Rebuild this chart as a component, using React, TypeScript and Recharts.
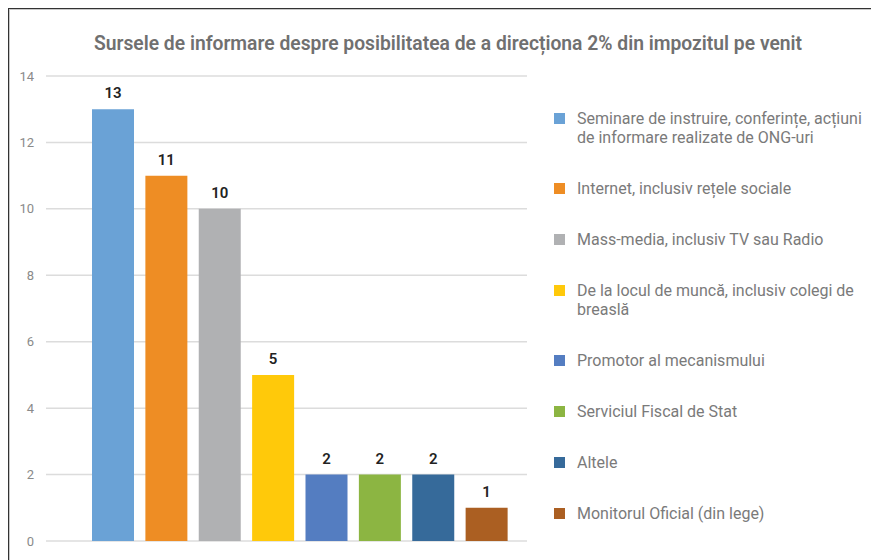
import { BarChart, Bar, XAxis, YAxis, CartesianGrid, Legend, LabelList, Cell } from "recharts";

const categories = [
  "Seminare de instruire, conferințe, acțiuni de informare realizate de ONG-uri",
  "Internet, inclusiv rețele sociale",
  "Mass-media, inclusiv TV sau Radio",
  "De la locul de muncă, inclusiv colegi de breaslă",
  "Promotor al mecanismului",
  "Serviciul Fiscal de Stat",
  "Altele",
  "Monitorul Oficial (din lege)",
];
const counts = [13, 11, 10, 5, 2, 2, 2, 1];
const colors = ["#6aa2d6", "#ee8d24", "#b0b1b3", "#ffc90a", "#547dc1", "#8cb542", "#366a9a", "#ab5f22"];
const yTicks = [0, 2, 4, 6, 8, 10, 12, 14];

const data = categories.map((name, i) => ({ name, value: counts[i] }));

const font = "Roboto, 'Noto Sans', sans-serif";

function LegendList() {
  return (
    <div style={{ fontFamily: font }}>
      {categories.map((c, i) => (
        <div key={c} style={{ display: "flex", alignItems: "flex-start", marginBottom: 32 }}>
          <span
            style={{
              width: 11,
              height: 11,
              background: colors[i],
              marginTop: 4,
              marginRight: 12,
              flex: "none",
            }}
          />
          <span style={{ fontSize: 16, lineHeight: "19px", color: "#7a7a7a", width: 296 }}>{c}</span>
        </div>
      ))}
    </div>
  );
}

export default function App() {
  return (
    <div
      style={{
        position: "relative",
        width: 900,
        height: 580,
        border: "1px solid #333",
        boxShadow: "inset 1px 1px 0 #c8c8c8",
        background: "#fff",
        fontFamily: font,
      }}
    >
      <div
        style={{
          position: "absolute",
          left: 0,
          width: 878,
          top: 23,
          textAlign: "center",
          fontSize: 19.3,
          fontWeight: 600,
          color: "#707070",
        }}
      >
        Sursele de informare despre posibilitatea de a direcționa 2% din impozitul pe venit
      </div>
      <BarChart
        width={872}
        height={552}
        data={data}
        margin={{ top: 67, right: 24, bottom: 20, left: 0 }}
        barSize={42}
      >
        <CartesianGrid vertical={false} stroke="#dcdcdc" strokeWidth={1.5} />
        <XAxis dataKey="name" hide padding={{ left: 40, right: 14 }} />
        <YAxis
          domain={[0, 14]}
          ticks={yTicks}
          width={37}
          axisLine={false}
          tickLine={false}
          tickSize={0}
          tickMargin={12}
          tick={{ fontSize: 13, fill: "#8a8a8a", fontFamily: font }}
        />
        <Legend
          layout="vertical"
          align="right"
          verticalAlign="top"
          content={() => <LegendList />}
          wrapperStyle={{ position: "absolute", left: 545, top: 100, width: 330 }}
        />
        <Bar dataKey="value" isAnimationActive={false}>
          {data.map((d, i) => (
            <Cell key={d.name} fill={colors[i]} />
          ))}
          <LabelList
            dataKey="value"
            position="top"
            offset={11}
            style={{ fontSize: 15, fontWeight: 600, fill: "#222", fontFamily: font }}
          />
        </Bar>
      </BarChart>
    </div>
  );
}
